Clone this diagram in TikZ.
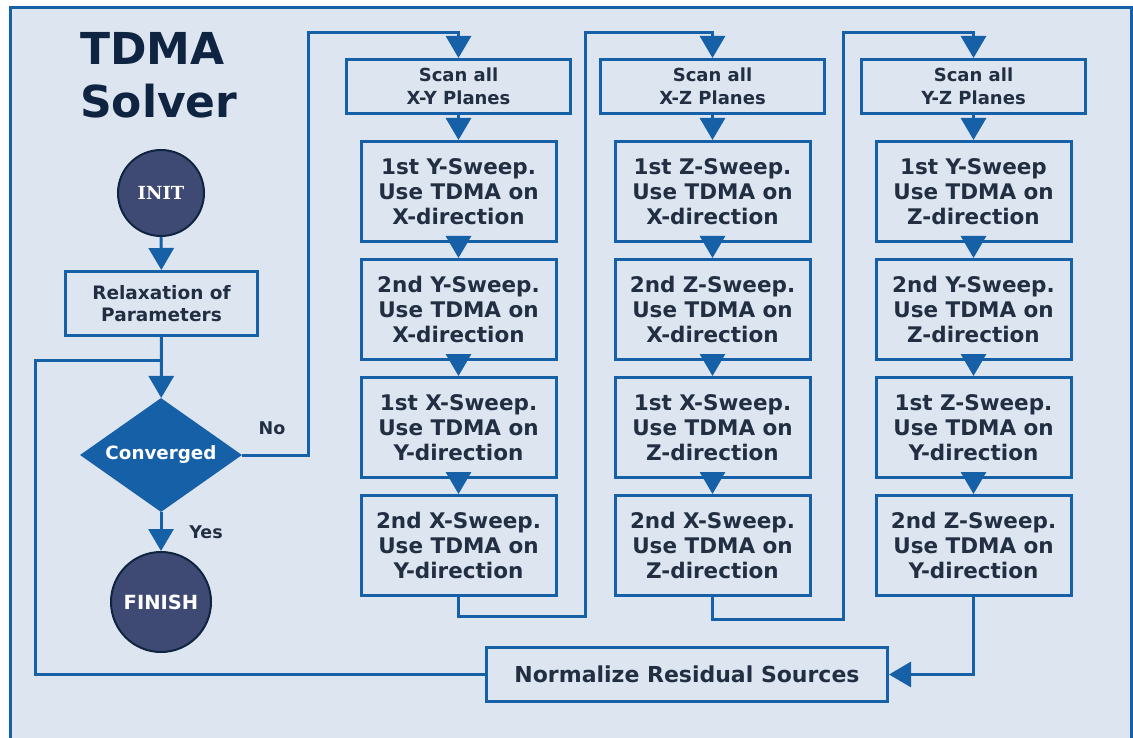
\documentclass[tikz,border=0pt]{standalone}
\usepackage{fontspec}
\setmainfont{DejaVu Sans}
\newfontfamily\initfont{DejaVu Serif}
\usetikzlibrary{arrows.meta, positioning, shapes.geometric}

\definecolor{panel}{HTML}{DDE5F0}
\definecolor{flowblue}{HTML}{1660A8}
\definecolor{navy}{HTML}{0F2441}
\definecolor{slate}{HTML}{3F4A74}
\definecolor{inkgray}{HTML}{222F42}

\begin{document}
\begin{tikzpicture}[
    x=1pt, y=-1pt,
    node distance=15pt,
    sweep/.style={draw=flowblue, line width=3pt, minimum width=195pt, minimum height=100pt,
                inner sep=0pt, align=center, text=inkgray, font=\bfseries\fontsize{21.5}{25}\selectfont},
    scan/.style={draw=flowblue, line width=3pt, minimum width=224pt, minimum height=54pt,
                inner sep=0pt, align=center, text=inkgray, font=\bfseries\fontsize{18}{23}\selectfont},
    term/.style={circle, draw=navy, line width=2pt, fill=slate, text=white, inner sep=0pt},
    decision/.style={diamond, aspect=1.42, fill=flowblue, text=white, minimum width=162pt,
                minimum height=114pt, inner sep=0pt, font=\bfseries\fontsize{18.3}{20}\selectfont},
    tag/.style={text=inkgray, font=\bfseries\fontsize{17.5}{19}\selectfont},
    line/.style={draw=flowblue, line width=3pt},
    arrow/.style={line, -{Triangle[length=22pt, width=25pt]}}
]
    \useasboundingbox (0,0) rectangle (1133,738);
    % panel
    \fill[panel] (10,8) rectangle (1131,740);
    \draw[line] (10,740) -- (10,8) -- (1131,8) -- (1131,740);

    \node[anchor=west, inner sep=0pt, align=left, text=navy,
          font=\bfseries\fontsize{44}{53}\selectfont] (title) at (80,75) {TDMA\\Solver};

    % main loop
    \node[term, minimum size=86pt, font=\initfont\bfseries\fontsize{18}{20}\selectfont] (init) at (161,193) {INIT};
    \node[scan, minimum width=192pt, minimum height=64pt, font=\bfseries\fontsize{18.5}{22}\selectfont]
        (relax) at (161.5,303.5) {Relaxation of\\Parameters};
    \node[decision] (conv) at (161,455) {Converged};
    \node[term, minimum size=100pt, font=\bfseries\fontsize{19.5}{20}\selectfont] (finish) at (161,602) {FINISH};
    \node[tag] (nolabel) at (272,428) {No};
    \node[tag] (yeslabel) at (206,532) {Yes};

    % X-Y planes
    \node[scan] (scanxy) at (458.5,86.5) {Scan all\\X-Y Planes};
    \node[sweep, below=25pt of scanxy] (xy1) {1st Y-Sweep.\\Use TDMA on\\X-direction};
    \node[sweep, below=of xy1] (xy2) {2nd Y-Sweep.\\Use TDMA on\\X-direction};
    \node[sweep, below=of xy2] (xy3) {1st X-Sweep.\\Use TDMA on\\Y-direction};
    \node[sweep, below=of xy3] (xy4) {2nd X-Sweep.\\Use TDMA on\\Y-direction};

    % X-Z planes
    \node[scan] (scanxz) at (712.5,86.5) {Scan all\\X-Z Planes};
    \node[sweep, below=25pt of scanxz] (xz1) {1st Z-Sweep.\\Use TDMA on\\X-direction};
    \node[sweep, below=of xz1] (xz2) {2nd Z-Sweep.\\Use TDMA on\\X-direction};
    \node[sweep, below=of xz2] (xz3) {1st X-Sweep.\\Use TDMA on\\Z-direction};
    \node[sweep, below=of xz3] (xz4) {2nd X-Sweep.\\Use TDMA on\\Z-direction};

    % Y-Z planes
    \node[scan] (scanyz) at (973.5,86.5) {Scan all\\Y-Z Planes};
    \node[sweep, below=25pt of scanyz] (yz1) {1st Y-Sweep\\Use TDMA on\\Z-direction};
    \node[sweep, below=of yz1] (yz2) {2nd Y-Sweep.\\Use TDMA on\\Z-direction};
    \node[sweep, below=of yz2] (yz3) {1st Z-Sweep.\\Use TDMA on\\Y-direction};
    \node[sweep, below=of yz3] (yz4) {2nd Z-Sweep.\\Use TDMA on\\Y-direction};

    \node[scan, minimum width=401pt, font=\bfseries\fontsize{22}{24}\selectfont]
        (norm) at (687,674.5) {Normalize Residual Sources};

    \coordinate (noturn) at (308,33);
    \coordinate (turnxz) at (585,33);
    \coordinate (turnyz) at (843,33);
    \coordinate (loopturn) at (35,360);
    \coordinate (loopjoin) at (161,360);

    \draw[arrow] (init) -- (relax);
    \draw[arrow] (relax) -- (conv);
    \draw[arrow] (conv) -- (finish);
    \draw[arrow] (conv.east) -| (noturn) -| (scanxy.north);
    \foreach \c in {xy, xz, yz} {
        \draw[arrow] (scan\c) -- (\c1);
        \foreach \i/\j in {1/2, 2/3, 3/4}
            \draw[arrow] (\c\i) -- (\c\j);
    }
    \draw[arrow] (xy4.south) -- ++(0,19) -| (turnxz) -| (scanxz.north);
    \draw[arrow] (xz4.south) -- ++(0,22) -| (turnyz) -| (scanyz.north);
    \draw[arrow] (yz4.south) |- (norm.east);
    \draw[line] (norm.west) -| (loopturn) -- (loopjoin);
\end{tikzpicture}
\end{document}
